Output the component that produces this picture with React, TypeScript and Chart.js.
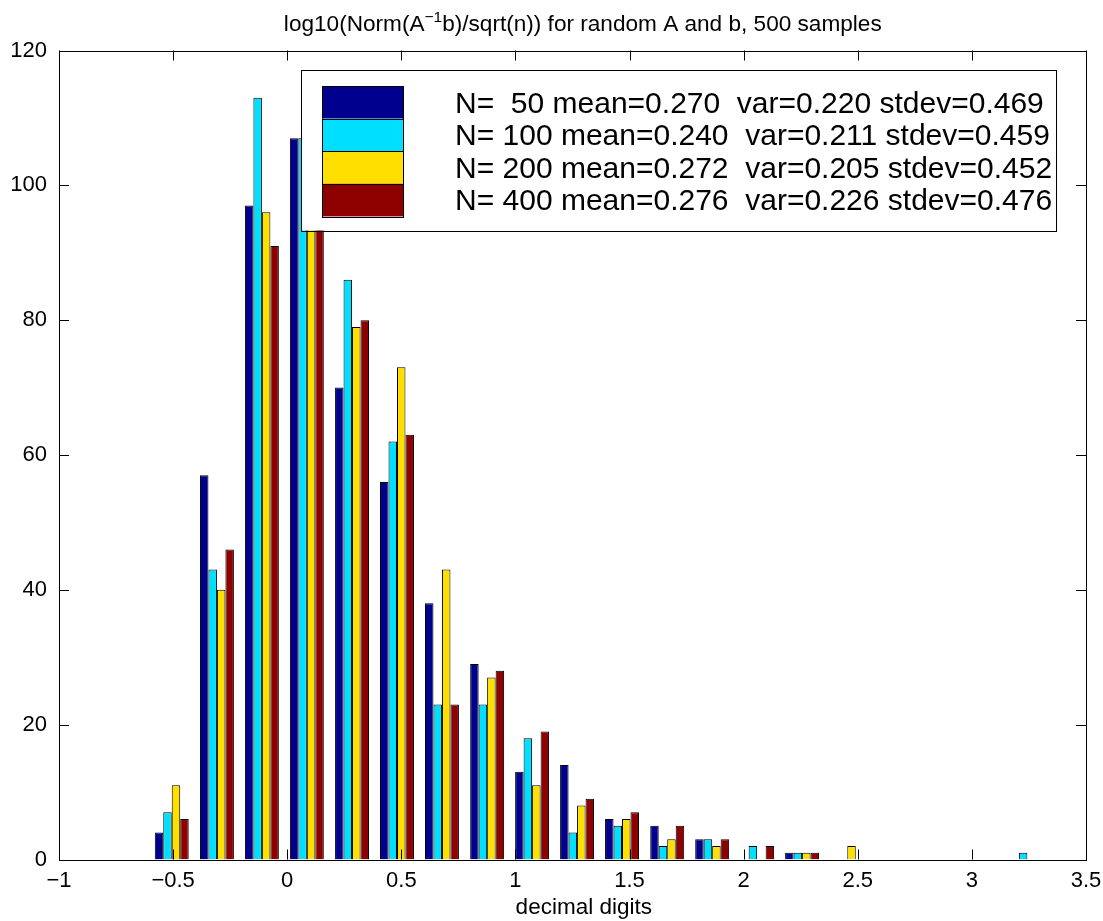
import React, { useEffect, useRef } from "react";
import { Chart, registerables } from "chart.js";

Chart.register(...registerables);

// ---- data ----
const binCenters = [
  -0.506, -0.308, -0.111, 0.086, 0.284, 0.481, 0.678, 0.876, 1.073, 1.27,
  1.467, 1.665, 1.862, 2.059, 2.256, 2.454, 2.651, 2.848, 3.046, 3.243,
];
const countsN50 = [4, 57, 97, 107, 70, 56, 38, 29, 13, 14, 6, 5, 3, 0, 1, 0, 0, 0, 0, 0];
const countsN100 = [7, 43, 113, 107, 86, 62, 23, 23, 18, 4, 5, 2, 3, 2, 1, 0, 0, 0, 0, 1];
const countsN200 = [11, 40, 96, 98, 79, 73, 43, 27, 11, 8, 6, 3, 2, 0, 1, 2, 0, 0, 0, 0];
const countsN400 = [6, 46, 91, 117, 80, 63, 23, 28, 19, 9, 7, 5, 3, 2, 1, 0, 0, 0, 0, 0];

const seriesLabels = [
  "N=  50 mean=0.270  var=0.220 stdev=0.469",
  "N= 100 mean=0.240  var=0.211 stdev=0.459",
  "N= 200 mean=0.272  var=0.205 stdev=0.452",
  "N= 400 mean=0.276  var=0.226 stdev=0.476",
];
const seriesColors = ["#00008F", "#00DFFF", "#FFDF00", "#8F0000"];

const xTickValues = [-1, -0.5, 0, 0.5, 1, 1.5, 2, 2.5, 3, 3.5];
const xTickLabels = ["\u22121", "\u22120.5", "0", "0.5", "1", "1.5", "2", "2.5", "3", "3.5"];
const yTickValues = [0, 20, 40, 60, 80, 100, 120];
const yTickLabels = ["0", "20", "40", "60", "80", "100", "120"];

const titleMain = "log10(Norm(A";
const titleSup = "\u22121";
const titleRest = "b)/sqrt(n)) for random A and b, 500 samples";
const xAxisLabel = "decimal digits";

const FONT = '"Liberation Sans", Arial, Helvetica, sans-serif';

const matlabPlugin = {
  id: "matlabDecor",
  afterDatasetsDraw(chart: any) {
    const { ctx, chartArea: a, scales } = chart;
    const x = scales.x;
    const y = scales.y;
    ctx.save();
    ctx.strokeStyle = "#000";
    ctx.lineWidth = 1;
    const tl = 10;
    ctx.beginPath();
    xTickValues.forEach((v) => {
      const px = Math.round(x.getPixelForValue(v)) + 0.5;
      ctx.moveTo(px, a.bottom);
      ctx.lineTo(px, a.bottom - tl);
      ctx.moveTo(px, a.top);
      ctx.lineTo(px, a.top + tl);
    });
    yTickValues.forEach((v) => {
      const py = Math.round(y.getPixelForValue(v)) + 0.5;
      ctx.moveTo(a.left, py);
      ctx.lineTo(a.left + tl, py);
      ctx.moveTo(a.right, py);
      ctx.lineTo(a.right - tl, py);
    });
    ctx.stroke();
    ctx.strokeRect(
      Math.round(a.left) + 0.5,
      Math.round(a.top) + 0.5,
      Math.round(a.right) - Math.round(a.left),
      Math.round(a.bottom) - Math.round(a.top)
    );

    // legend box
    const lx = a.left + 242;
    const ly = a.top + 19;
    const lw = 755;
    const lh = 161;
    ctx.fillStyle = "#fff";
    ctx.fillRect(lx, ly, lw, lh);
    ctx.strokeRect(Math.round(lx) + 0.5, Math.round(ly) + 0.5, lw, lh);
    const px0 = lx + 21;
    const pw = 81;
    const ph = 32.6;
    const py0 = ly + 16.5;
    ctx.font = "30px " + FONT;
    ctx.textAlign = "left";
    ctx.textBaseline = "alphabetic";
    seriesLabels.forEach((lab, i) => {
      const top = py0 + i * ph;
      ctx.fillStyle = seriesColors[i];
      ctx.fillRect(px0, top, pw, ph);
      ctx.strokeStyle = "#000";
      ctx.strokeRect(Math.round(px0) + 0.5, Math.round(top) + 0.5, pw, Math.round(ph));
      ctx.fillStyle = "#000";
      ctx.fillText(lab, lx + 154, top + 26.5);
    });

    // title with superscript
    const tSize = 22.6;
    ctx.font = tSize + "px " + FONT;
    const w1 = ctx.measureText(titleMain).width;
    const w3 = ctx.measureText(titleRest).width;
    ctx.font = "15.5px " + FONT;
    const w2 = ctx.measureText(titleSup).width;
    const total = w1 + w2 + w3;
    const cx = a.left + (a.right - a.left) * 0.51;
    let tx = cx - total / 2;
    const tb = 31;
    ctx.fillStyle = "#000";
    ctx.font = tSize + "px " + FONT;
    ctx.fillText(titleMain, tx, tb);
    tx += w1;
    ctx.font = "15.5px " + FONT;
    ctx.fillText(titleSup, tx, tb - 9);
    tx += w2;
    ctx.font = tSize + "px " + FONT;
    ctx.fillText(titleRest, tx, tb);

    // x axis label
    ctx.font = "22.5px " + FONT;
    ctx.textAlign = "center";
    ctx.fillText(xAxisLabel, cx + 1, 914);
    ctx.restore();
  },
};

export default function App() {
  const ref = useRef<HTMLCanvasElement | null>(null);
  useEffect(() => {
    document.body.style.margin = "0";
    document.body.style.overflow = "hidden";
    const canvas = ref.current;
    if (!canvas) return;
    const allCounts = [countsN50, countsN100, countsN200, countsN400];
    const chart = new Chart(canvas, {
      type: "bar",
      data: {
        datasets: allCounts.map((counts, i) => ({
          label: seriesLabels[i],
          data: binCenters.map((c, k) => ({ x: c, y: counts[k] })),
          backgroundColor: seriesColors[i],
          borderColor: "#000",
          borderWidth: 1,
          categoryPercentage: 0.755,
          barPercentage: 1,
        })),
      },
      options: {
        animation: false,
        responsive: false,
        maintainAspectRatio: false,
        layout: { padding: { top: 50.5, right: 17, left: 0, bottom: 0 } },
        plugins: {
          legend: { display: false },
          title: { display: false },
          tooltip: { enabled: false },
        },
        scales: {
          x: {
            type: "linear",
            min: -1,
            max: 3.5,
            offset: false,
            grid: { display: false, drawTicks: false },
            border: { display: false },
            ticks: {
              stepSize: 0.5,
              autoSkip: false,
              maxRotation: 0,
              padding: 8,
              color: "#000",
              font: { family: FONT, size: 22 },
              callback: (_v: any, i: number) => xTickLabels[i],
            },
            afterFit: (s: any) => {
              s.height = 61.5;
              s.paddingLeft = 0;
              s.paddingRight = 0;
            },
          },
          y: {
            min: 0,
            max: 120,
            grid: { display: false, drawTicks: false },
            border: { display: false },
            ticks: {
              stepSize: 20,
              padding: 12,
              color: "#000",
              font: { family: FONT, size: 22 },
              callback: (_v: any, i: number) => yTickLabels[i],
            },
            afterFit: (s: any) => {
              s.width = 59;
              s.paddingTop = 0;
              s.paddingBottom = 0;
            },
          },
        },
      },
      plugins: [matlabPlugin],
    } as any);
    return () => chart.destroy();
  }, []);
  return (
    <canvas
      ref={ref}
      width={1103}
      height={921}
      style={{ display: "block", width: 1103, height: 921 }}
    />
  );
}
